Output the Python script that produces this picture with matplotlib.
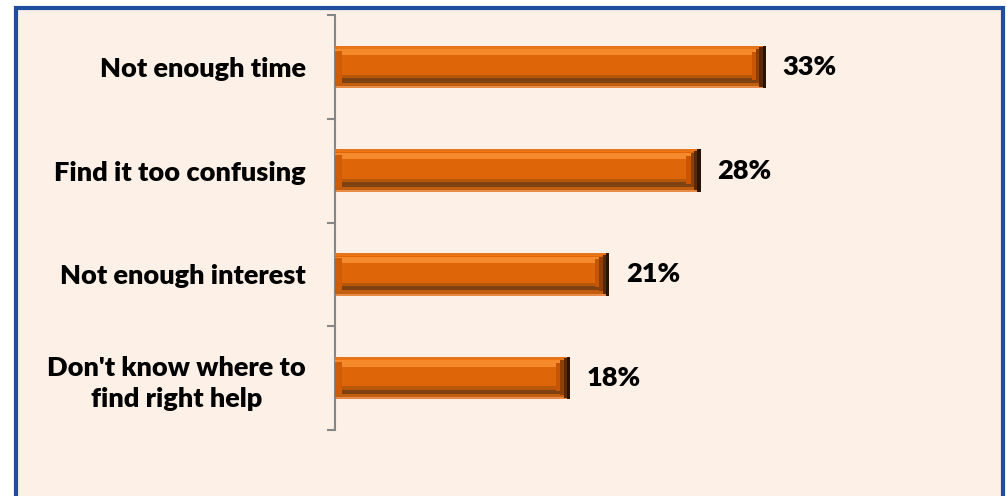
import matplotlib.pyplot as plt
from matplotlib.patches import Rectangle

# reasons and share of respondents (%)
reasons = ['Not enough time', 'Find it too confusing', 'Not enough interest',
           "Don't know where to\nfind right help"]
shares = [33, 28, 21, 18]

bg = '#FDF0E7'
fsize = 19.5
fw = 'heavy'

fig = plt.figure(figsize=(10.07, 4.96), dpi=100)
fig.patch.set_facecolor('white')
# blue frame around the chart area
fig.patches.append(Rectangle((16/1007, -0.02), 987/1007, 1.02 - 8/496,
                             transform=fig.transFigure, facecolor=bg,
                             edgecolor='#1F4E9E', linewidth=3, zorder=-10))

ax = fig.add_axes([335/1007, 1 - 430/496, 653/1007, 415/496])
ax.set_facecolor('none')
ax.set_zorder(5)

ypos = list(range(len(reasons)))
bh = 0.41
n = len(shares)

# layered bars for the bevel look
ax.barh(ypos, shares, height=bh, color='#E88A48', zorder=2)
ax.barh([y - 0.005 for y in ypos], shares, height=bh - 0.03, color='#C25E10', zorder=3)
ax.barh([y - 0.02 for y in ypos], shares, height=bh - 0.06, color='#7E4212', zorder=4)
ax.barh([y - 0.04 for y in ypos], shares, height=bh - 0.11, color='#B8560A', zorder=5)
ax.barh([y - 0.05 for y in ypos], shares, height=bh - 0.15, color='#DF6608', zorder=6)
ax.barh([y - 0.14 for y in ypos], shares, height=0.06, color='#F58A2C', zorder=7)
ax.barh([y - 0.19 for y in ypos], shares, height=0.03, color='#E8741A', zorder=7)
# left bevel
ax.barh(ypos, [0.5] * n, height=bh - 0.1, color='#CF5C06', zorder=8)
# dark right end of each bar
ax.barh([y - 0.01 for y in ypos], [0.4] * n, left=[s - 1.1 for s in shares],
        height=bh - 0.14, color='#C45606', zorder=8)
ax.barh([y - 0.005 for y in ypos], [0.3] * n, left=[s - 0.75 for s in shares],
        height=bh - 0.08, color='#8C4008', zorder=8)
ax.barh(ypos, [0.25] * n, left=[s - 0.5 for s in shares], height=bh - 0.03,
        color='#5A2A08', zorder=8)
ax.barh(ypos, [0.25] * n, left=[s - 0.25 for s in shares], height=bh,
        color='#2A1405', zorder=8)

for y, s in zip(ypos, shares):
    ax.annotate('{}%'.format(s), (s, y), xytext=(12, 0), textcoords='offset points',
                ha='left', va='center', fontsize=fsize, fontweight=fw,
                family='Lato', color='black')

ax.set_xlim(0, 50)
ax.set_ylim(n - 0.5, -0.5)

for side in ['top', 'right', 'bottom']:
    ax.spines[side].set_visible(False)
ax.spines['left'].set_color('#868686')
ax.spines['left'].set_linewidth(1.5)
ax.set_xticks([])

ax.set_yticks([y - 0.5 for y in range(n + 1)])
ax.set_yticklabels([])
ax.tick_params(axis='y', which='major', length=6, width=1.5, color='#868686', direction='out')
ax.set_yticks(ypos, reasons, minor=True)
ax.tick_params(axis='y', which='minor', length=0, pad=21)
for lab in ax.get_yticklabels(minor=True):
    lab.set_fontsize(fsize)
    lab.set_fontweight(fw)
    lab.set_family('Lato')
    lab.set_multialignment('center')
    lab.set_linespacing(1.35)

fig.savefig('out.png', dpi=100, facecolor=fig.get_facecolor())
